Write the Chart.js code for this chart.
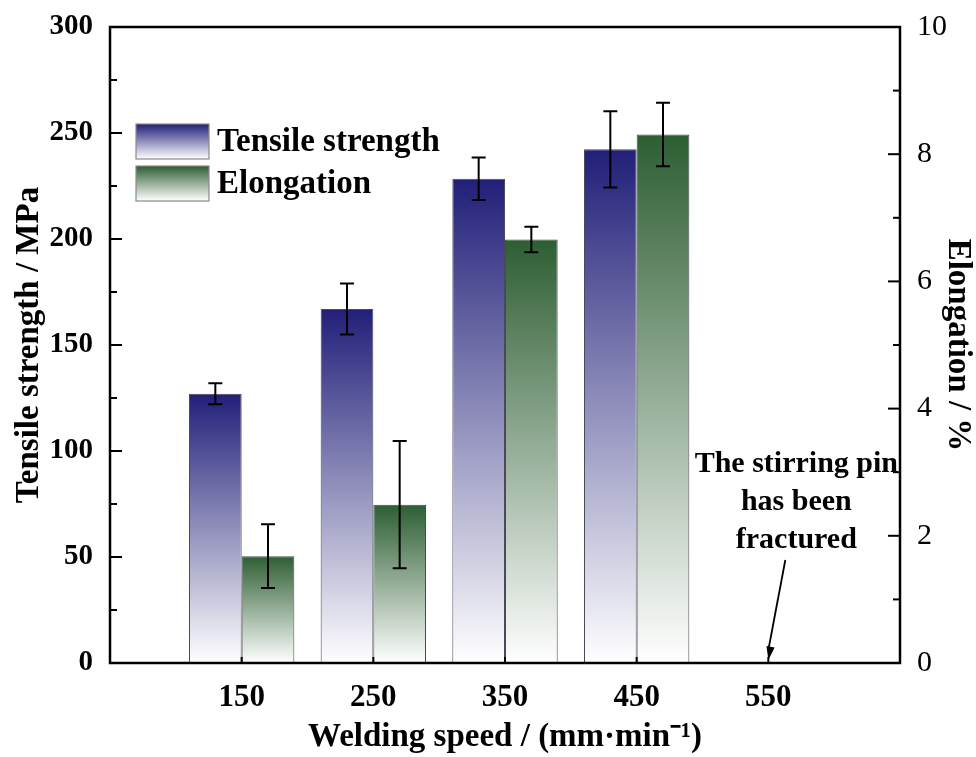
<!DOCTYPE html>
<html lang="en">
  <head>
    <meta charset="UTF-8" />
    <title>Tensile strength and elongation vs welding speed</title>
    <script src="https://cdn.jsdelivr.net/npm/chart.js"></script>
    <style>
      body { margin: 0; background: #fff; }
      #wrap { width: 976px; height: 757px; position: relative; }
    </style>
  </head>
  <body>
    <div id="wrap"><canvas id="myChart"></canvas></div>

    <script>
      // data
      const speeds = [150, 250, 350, 450, 550];
      const tensile = [127, 167, 228.4, 242.3, null];
      const tensileErr = [5, 12, 10, 18, null];
      const elongation = [1.68, 2.49, 6.66, 8.31, null];
      const elongationErr = [0.5, 1.0, 0.2, 0.5, null];
      const leftTicks = [0, 50, 100, 150, 200, 250, 300];
      const rightTicks = [0, 2, 4, 6, 8, 10];
      const noteLines = ["The stirring pin", "has been", "fractured"];

      const serif = "'Liberation Serif', 'Times New Roman', serif";
      const blueTop = "#211f78";
      const greenTop = "#2d5e32";

      function barGradient(c, top) {
        const chart = c.chart;
        if (!chart.chartArea || c.type !== "data" || !c.parsed) return top;
        const scale = chart.scales[c.dataset.yAxisID];
        if (!scale) return top;
        const y0 = scale.getPixelForValue(c.parsed.y);
        const y1 = scale.getPixelForValue(0);
        if (!isFinite(y0) || !isFinite(y1) || y0 === y1) return top;
        const g = chart.ctx.createLinearGradient(0, y0, 0, y1);
        g.addColorStop(0, top);
        g.addColorStop(1, "#ffffff");
        return g;
      }

      const extras = {
        id: "extras",
        afterDatasetsDraw(chart) {
          const ctx = chart.ctx;
          const x = chart.scales.x;
          const area = chart.chartArea;
          ctx.save();
          // error bars
          const sets = [
            { meta: chart.getDatasetMeta(0), vals: tensile, errs: tensileErr, y: chart.scales.y },
            { meta: chart.getDatasetMeta(1), vals: elongation, errs: elongationErr, y: chart.scales.y2 },
          ];
          ctx.strokeStyle = "#000";
          ctx.lineWidth = 2;
          sets.forEach((s) => {
            s.meta.data.forEach((bar, i) => {
              if (s.vals[i] == null) return;
              const px = bar.x;
              const hi = s.y.getPixelForValue(s.vals[i] + s.errs[i]);
              const lo = s.y.getPixelForValue(s.vals[i] - s.errs[i]);
              ctx.beginPath();
              ctx.moveTo(px, hi); ctx.lineTo(px, lo);
              ctx.moveTo(px - 7, hi); ctx.lineTo(px + 7, hi);
              ctx.moveTo(px - 7, lo); ctx.lineTo(px + 7, lo);
              ctx.stroke();
            });
          });

          // frame + inward ticks
          ctx.lineWidth = 2.5;
          ctx.strokeRect(area.left, area.top, area.right - area.left, area.bottom - area.top);
          ctx.lineWidth = 2;
          const yl = chart.scales.y;
          for (let v = 0; v <= 300; v += 25) {
            const py = yl.getPixelForValue(v);
            ctx.beginPath();
            ctx.moveTo(area.left, py);
            ctx.lineTo(area.left + (v % 50 === 0 ? 12 : 7), py);
            ctx.stroke();
          }
          const yr = chart.scales.y2;
          for (let v = 0; v <= 10; v += 1) {
            const py = yr.getPixelForValue(v);
            ctx.beginPath();
            ctx.moveTo(area.right, py);
            ctx.lineTo(area.right - (v % 2 === 0 ? 12 : 7), py);
            ctx.stroke();
          }
          speeds.forEach((s) => {
            const px = x.getPixelForValue(s);
            ctx.beginPath();
            ctx.moveTo(px, area.bottom);
            ctx.lineTo(px, area.bottom - 6);
            ctx.stroke();
          });

          // legend
          const legend = [
            { label: "Tensile strength", color: blueTop, y: 124 },
            { label: "Elongation", color: greenTop, y: 166 },
          ];
          legend.forEach((l) => {
            const bx = 136, bw = 73, bh = 35;
            const g = ctx.createLinearGradient(0, l.y, 0, l.y + bh);
            g.addColorStop(0, l.color);
            g.addColorStop(1, "#ffffff");
            ctx.fillStyle = g;
            ctx.fillRect(bx, l.y, bw, bh);
            ctx.strokeStyle = "#8a8a8a";
            ctx.lineWidth = 1.2;
            ctx.strokeRect(bx, l.y, bw, bh);
            ctx.fillStyle = "#000";
            ctx.font = "bold 33px " + serif;
            ctx.textAlign = "left";
            ctx.textBaseline = "middle";
            ctx.fillText(l.label, 217, l.y + bh / 2 + 1);
          });

          // note about 550
          const px550 = x.getPixelForValue(550);
          ctx.font = "bold 30px " + serif;
          ctx.textAlign = "center";
          ctx.textBaseline = "middle";
          ctx.fillStyle = "#000";
          noteLines.forEach((t, i) => ctx.fillText(t, px550 + 28, 464 + i * 38));
          // arrow
          const x1 = px550 + 17, y1 = 560, x2 = px550, y2 = area.bottom - 3;
          ctx.strokeStyle = "#000";
          ctx.lineWidth = 1.8;
          ctx.beginPath();
          ctx.moveTo(x1, y1);
          ctx.lineTo(x2, y2 - 10);
          ctx.stroke();
          const ang = Math.atan2(y2 - y1, x2 - x1);
          ctx.beginPath();
          ctx.moveTo(x2, y2);
          ctx.lineTo(x2 - 14 * Math.cos(ang - 0.3), y2 - 14 * Math.sin(ang - 0.3));
          ctx.lineTo(x2 - 14 * Math.cos(ang + 0.3), y2 - 14 * Math.sin(ang + 0.3));
          ctx.closePath();
          ctx.fill();
          ctx.restore();
        },
      };

      const ctx = document.getElementById("myChart").getContext("2d");
      const myChart = new Chart(ctx, {
        type: "bar",
        data: {
          datasets: [
            {
              label: "Tensile strength",
              data: speeds.map((s, i) => ({ x: s, y: tensile[i] })),
              yAxisID: "y",
              backgroundColor: (c) => barGradient(c, blueTop),
              borderColor: "#4a4a5a",
              borderWidth: 1,
              categoryPercentage: 0.8,
              barPercentage: 1.0,
            },
            {
              label: "Elongation",
              data: speeds.map((s, i) => ({ x: s, y: elongation[i] })),
              yAxisID: "y2",
              backgroundColor: (c) => barGradient(c, greenTop),
              borderColor: "#4a4a4a",
              borderWidth: 1,
              categoryPercentage: 0.8,
              barPercentage: 1.0,
            },
          ],
        },
        options: {
          responsive: true,
          maintainAspectRatio: false,
          animation: false,
          layout: { padding: { top: 18, left: 0, right: 0, bottom: 0 } },
          plugins: { legend: { display: false }, tooltip: { enabled: false } },
          scales: {
            x: {
              type: "linear",
              min: 50,
              max: 650,
              offset: false,
              grid: { display: false },
              border: { display: false },
              afterBuildTicks: (s) => { s.ticks = speeds.map((v) => ({ value: v })); },
              afterFit: (s) => { s.height = 94; },
              ticks: {
                color: "#000",
                padding: 8,
                maxRotation: 0,
                autoSkip: false,
                font: { family: serif, size: 31, weight: "bold" },
              },
              title: {
                display: true,
                text: "Welding speed / (mm\u00b7min\u207b\u00b9)",
                color: "#000",
                padding: { top: 0, bottom: 3 },
                font: { family: serif, size: 33, weight: "bold", lineHeight: 1 },
              },
            },
            y: {
              position: "left",
              min: 0,
              max: 300,
              grid: { display: false },
              border: { display: false },
              afterBuildTicks: (s) => { s.ticks = leftTicks.map((v) => ({ value: v })); },
              afterFit: (s) => { s.width = 110; },
              ticks: {
                color: "#000",
                padding: 9,
                font: { family: serif, size: 29, weight: "bold" },
              },
              title: {
                display: true,
                text: "Tensile strength / MPa",
                color: "#000",
                padding: { top: 13, bottom: 0 },
                font: { family: serif, size: 33, weight: "bold", lineHeight: 1 },
              },
            },
            y2: {
              position: "right",
              min: 0,
              max: 10,
              grid: { display: false },
              border: { display: false },
              afterBuildTicks: (s) => { s.ticks = rightTicks.map((v) => ({ value: v })); },
              afterFit: (s) => { s.width = 76; },
              ticks: {
                color: "#000",
                padding: 9,
                font: { family: serif, size: 30, weight: "normal" },
              },
              title: {
                display: true,
                text: "Elongation / %",
                color: "#000",
                padding: { top: 2, bottom: 0 },
                font: { family: serif, size: 33, weight: "bold", lineHeight: 1 },
              },
            },
          },
        },
        plugins: [extras],
      });
    </script>
  </body>
</html>
